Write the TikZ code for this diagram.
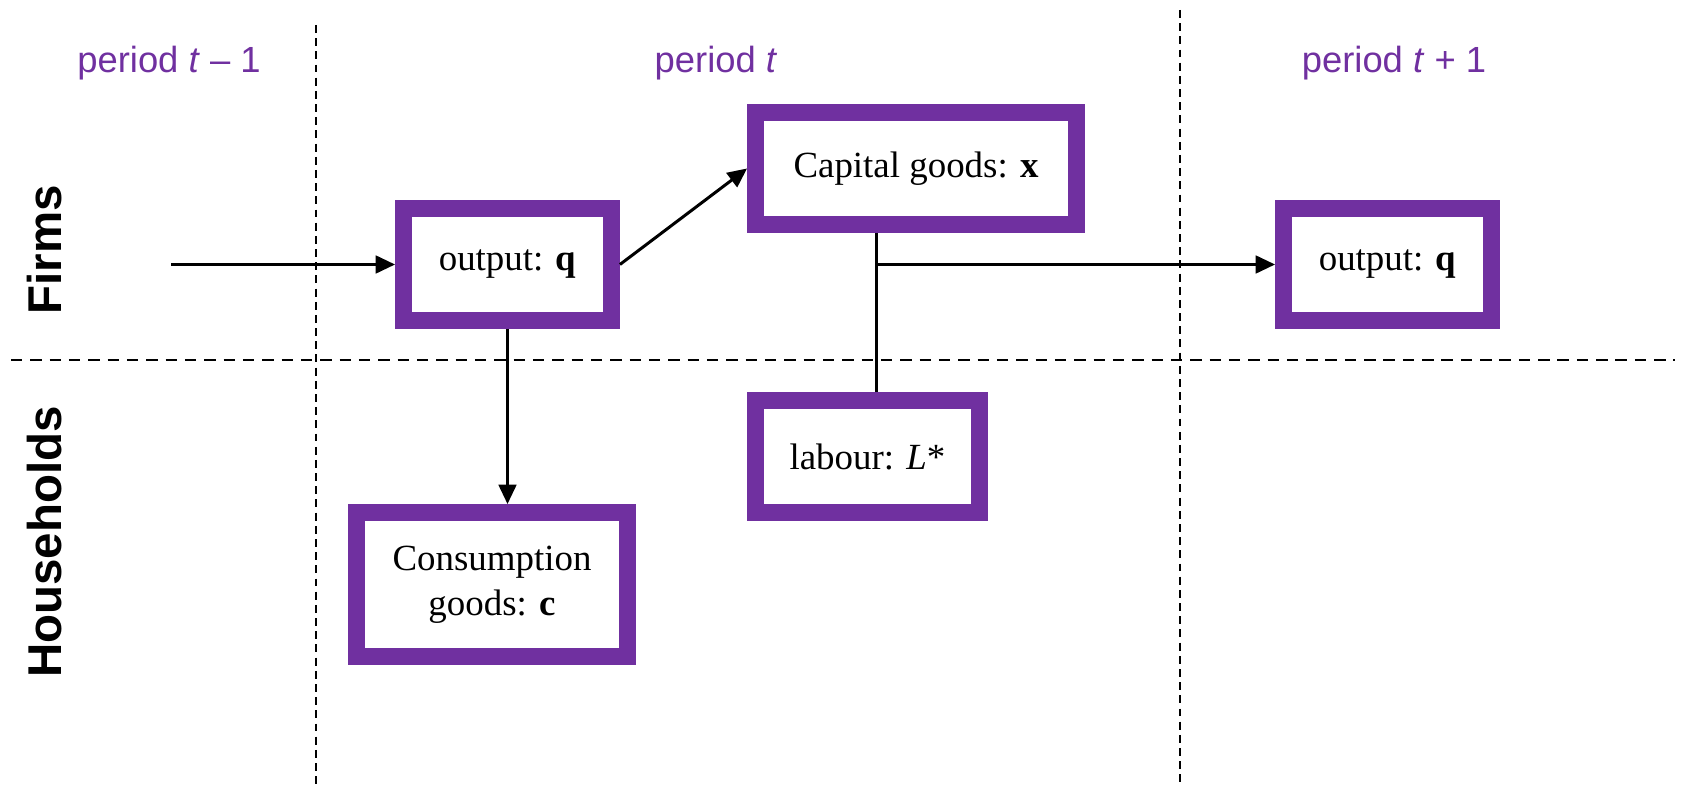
\documentclass[tikz,border=0pt]{standalone}
\usepackage{fontspec}
\setmainfont{Liberation Serif}
\newfontfamily\sansfont{Liberation Sans}
\usetikzlibrary{arrows.meta,positioning}
\definecolor{boxpurple}{HTML}{7030A0}

\begin{document}
\begin{tikzpicture}[x=0.2mm,y=-0.2mm,
    goodsbox/.style={draw=boxpurple,line width=9.6pt,fill=white,inner sep=0pt,
        align=center,font=\fontsize{21}{25.5}\selectfont},
    flow/.style={line width=1.7pt,-{Triangle[length=11pt,width=10pt]}},
    link/.style={line width=1.7pt},
    periodline/.style={line width=1pt,dash pattern=on 4.5pt off 3pt},
    sectorline/.style={line width=1.1pt,dash pattern=on 6.5pt off 4.5pt},
    periodlabel/.style={anchor=base,text=boxpurple,font=\sansfont\fontsize{20.7}{24}\selectfont},
    sectorlabel/.style={rotate=90,font=\sansfont\bfseries\fontsize{27}{30}\selectfont}]
        \pgfmathsetmacro{\LeftCut}{316}
        \pgfmathsetmacro{\RightCut}{1180}
        \pgfmathsetmacro{\SectorCut}{360}
        \useasboundingbox (0,0) rectangle (1683,785);

        % dashed grid
        \draw[periodline] (\LeftCut,25) -- (\LeftCut,785);
        \draw[periodline] (\RightCut,10) -- (\RightCut,785);
        \draw[sectorline] (11,\SectorCut) -- (1675,\SectorCut);

        % period and sector labels
        \node[periodlabel] (prev) at (169,73) {period \textit{t} – 1};
        \node[periodlabel] (now) at (716,73) {period \textit{t}};
        \node[periodlabel] (next) at (1394,73) {period \textit{t} + 1};
        \node[sectorlabel] (firms) at (45,250) {Firms};
        \node[sectorlabel] (households) at (45,542) {Households};

        % boxes
        \node[goodsbox,minimum width=4.16cm,minimum height=2.24cm] (outputnow) at (507.5,264.5) {output: \textbf{q}};
        \node[goodsbox,minimum width=6.42cm,minimum height=2.24cm] (capital) at (916,168.5) {Capital goods: \textbf{x}};
        \node[goodsbox,minimum width=4.16cm,minimum height=2.24cm] (outputnext) at (1387.5,264.5) {output: \textbf{q}};
        \node[goodsbox,minimum width=4.48cm,minimum height=2.24cm] (labour) at (867.5,456.5) {labour: \textit{L}*};
        \node[goodsbox,minimum width=5.42cm,minimum height=2.88cm] (consumption) at (492,584.5) {Consumption\\goods: \textbf{c}};

        % flows
        \coordinate (start) at (171,264.5);
        \coordinate (branch) at (876,264.5);
        \draw[flow] (start) -- (outputnow.west);
        \draw[flow] (outputnow.east) -- (capital.west);
        \draw[flow] (outputnow.south) -- (outputnow.south |- consumption.north);
        \draw[link] (capital.south -| branch) -- (labour.north -| branch);
        \draw[flow] (branch) -- (outputnext.west);
    \end{tikzpicture}
\end{document}
